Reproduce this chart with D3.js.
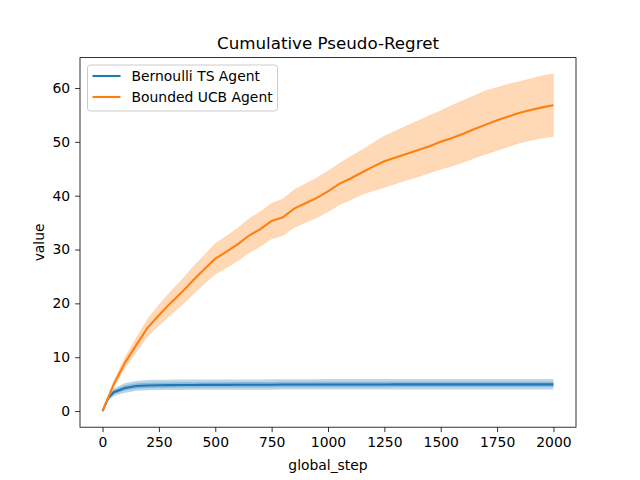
<!DOCTYPE html>
<html>
<head>
<meta charset="utf-8">
<script src="https://cdn.jsdelivr.net/npm/d3@7"></script>
<style>
  body { margin: 0; background: #fff; }
  svg text { font-family: "DejaVu Sans", sans-serif; fill: #000; }
</style>
</head>
<body>
<div id="contenedor"></div>
<script>
// datos
steps = [0, 25, 50, 100, 150, 200, 250, 300, 350, 400, 450, 500, 550, 600, 650, 700, 750, 800, 850, 900, 950, 1000,
         1050, 1100, 1150, 1200, 1250, 1300, 1350, 1400, 1450, 1500, 1550, 1600, 1650, 1700, 1750, 1800, 1850, 1900, 1950, 2000]

ucbMean = [0, 2.5, 5.0, 9.0, 12.3, 15.5, 17.8, 20.0, 22.0, 24.2, 26.3, 28.3, 29.6, 31.0, 32.6, 33.8, 35.3, 36.0, 37.6, 38.6, 39.6, 40.8,
           42.2, 43.2, 44.3, 45.4, 46.4, 47.1, 47.8, 48.5, 49.2, 50.0, 50.7, 51.5, 52.4, 53.2, 54.0, 54.7, 55.4, 55.9, 56.4, 56.8]
ucbUpper = [0, 2.8, 5.6, 10.0, 13.6, 17.1, 19.7, 22.1, 24.3, 26.7, 28.9, 31.1, 32.5, 34.0, 35.7, 37.0, 38.6, 39.4, 41.1, 42.2, 43.3, 44.6,
            46.0, 47.3, 48.5, 49.8, 51.1, 52.0, 53.0, 53.9, 54.9, 55.8, 56.8, 57.7, 58.6, 59.5, 60.1, 60.7, 61.2, 61.7, 62.3, 62.6]
ucbLower = [0, 2.2, 4.4, 8.0, 11.0, 13.9, 15.9, 17.8, 19.6, 21.6, 23.6, 25.4, 26.6, 27.9, 29.4, 30.6, 32.0, 32.6, 34.1, 35.0, 35.9, 37.0,
            38.3, 39.2, 40.2, 40.9, 41.5, 42.2, 42.9, 43.5, 44.2, 44.9, 45.5, 46.2, 47.0, 47.7, 48.4, 49.1, 49.8, 50.3, 50.7, 51.0]

tsMean = [0, 2.4, 3.5, 4.3, 4.65, 4.75, 4.8, 4.82, 4.84, 4.85, 4.86, 4.87, 4.87, 4.88, 4.88, 4.88, 4.89, 4.93, 4.93, 4.93, 4.93, 4.94,
          4.94, 4.94, 4.94, 4.94, 4.94, 4.95, 4.95, 4.95, 4.95, 4.95, 4.95, 4.95, 4.95, 4.95, 4.95, 4.95, 4.95, 4.95, 4.95, 4.95]
tsUpper = [0, 2.9, 4.2, 5.2, 5.6, 5.75, 5.8, 5.82, 5.84, 5.85, 5.86, 5.87, 5.87, 5.88, 5.88, 5.88, 5.89, 5.92, 5.92, 5.92, 5.92, 5.93,
           5.93, 5.93, 5.93, 5.93, 5.93, 5.94, 5.94, 5.94, 5.94, 5.94, 5.94, 5.94, 5.94, 5.94, 5.94, 5.94, 5.94, 5.94, 5.94, 5.94]
tsLower = [0, 1.9, 2.8, 3.4, 3.75, 3.85, 3.9, 3.92, 3.93, 3.94, 3.95, 3.95, 3.95, 3.96, 3.96, 3.96, 3.96, 3.98, 3.98, 3.98, 3.98, 3.98,
           3.98, 3.98, 3.98, 3.98, 3.98, 3.99, 3.99, 3.99, 3.99, 3.99, 3.99, 3.99, 3.99, 3.99, 3.99, 3.99, 3.99, 3.99, 3.99, 3.99]
tsInUpper = [0, 2.7, 3.9, 4.8, 5.15, 5.25, 5.3, 5.32, 5.34, 5.35, 5.36, 5.37, 5.37, 5.38, 5.38, 5.38, 5.39, 5.42, 5.42, 5.42, 5.42, 5.43,
             5.43, 5.43, 5.43, 5.43, 5.43, 5.44, 5.44, 5.44, 5.44, 5.44, 5.44, 5.44, 5.44, 5.44, 5.44, 5.44, 5.44, 5.44, 5.44, 5.44]
tsInLower = [0, 2.1, 3.1, 3.8, 4.15, 4.25, 4.3, 4.32, 4.34, 4.35, 4.36, 4.37, 4.37, 4.38, 4.38, 4.38, 4.39, 4.43, 4.43, 4.43, 4.43, 4.44,
             4.44, 4.44, 4.44, 4.44, 4.44, 4.45, 4.45, 4.45, 4.45, 4.45, 4.45, 4.45, 4.45, 4.45, 4.45, 4.45, 4.45, 4.45, 4.45, 4.45]

xTicks = [0, 250, 500, 750, 1000, 1250, 1500, 1750, 2000]
yTicks = [0, 10, 20, 30, 40, 50, 60]
series = ["Bernoulli TS Agent", "Bounded UCB Agent"]
colores = ["#1f77b4", "#ff7f0e"]

ancho = 640
alto = 480
izq = 80, der = 576, arriba = 57.6, abajo = 427.2

svg = d3.select("#contenedor")
    .append("svg")
    .attr("width", ancho)
    .attr("height", alto)

//ESCALAS
x = d3.scaleLinear().domain([-100, 2100]).range([izq, der])
y = d3.scaleLinear().domain([-3.0, 65.65]).range([abajo, arriba])

idx = d3.range(steps.length)

banda = function(lo, hi) {
    return d3.area()
        .x(function(i) { return x(steps[i]) })
        .y0(function(i) { return y(lo[i]) })
        .y1(function(i) { return y(hi[i]) })
}
linea = function(v) {
    return d3.line()
        .x(function(i) { return x(steps[i]) })
        .y(function(i) { return y(v[i]) })
}

plot = svg.append("g")

plot.append("path").datum(idx).attr("d", banda(tsLower, tsUpper))
    .attr("fill", colores[0]).attr("fill-opacity", 0.3)
plot.append("path").datum(idx).attr("d", banda(tsInLower, tsInUpper))
    .attr("fill", colores[0]).attr("fill-opacity", 0.3)
plot.append("path").datum(idx).attr("d", banda(ucbLower, ucbUpper))
    .attr("fill", colores[1]).attr("fill-opacity", 0.3)
    .attr("stroke", colores[1]).attr("stroke-opacity", 0.12).attr("stroke-width", 1)

plot.append("path").datum(idx).attr("d", linea(tsMean))
    .attr("fill", "none").attr("stroke", colores[0]).attr("stroke-width", 2.1)
plot.append("path").datum(idx).attr("d", linea(ucbMean))
    .attr("fill", "none").attr("stroke", colores[1]).attr("stroke-width", 2.1)

//EJES
ejeX = d3.axisBottom(x).tickValues(xTicks).tickSize(4.9).tickPadding(4.9).tickFormat(d3.format("d"))
ejeY = d3.axisLeft(y).tickValues(yTicks).tickSize(4.9).tickPadding(4.9)

gx = svg.append("g").attr("transform", "translate(0," + abajo + ")").call(ejeX)
gy = svg.append("g").attr("transform", "translate(" + izq + ",0)").call(ejeY)
;[gx, gy].forEach(function(g) {
    g.select(".domain").remove()
    g.selectAll("line").attr("stroke", "#000").attr("stroke-width", 0.8)
    g.selectAll("text").attr("font-size", "13.9px").attr("font-family", "DejaVu Sans")
})

svg.append("rect")
    .attr("x", izq).attr("y", arriba)
    .attr("width", der - izq).attr("height", abajo - arriba)
    .attr("fill", "none").attr("stroke", "#000").attr("stroke-width", 0.8)

svg.append("text").attr("x", (izq + der) / 2).attr("y", 49)
    .attr("text-anchor", "middle").attr("font-size", "16.7px").text("Cumulative Pseudo-Regret")
svg.append("text").attr("x", (izq + der) / 2).attr("y", 470)
    .attr("text-anchor", "middle").attr("font-size", "13.9px").text("global_step")
svg.append("text").attr("transform", "translate(44," + (arriba + abajo) / 2 + ") rotate(-90)")
    .attr("text-anchor", "middle").attr("font-size", "13.9px").text("value")

//LEYENDA
ley = svg.append("g").attr("transform", "translate(87.5,65)")
ley.append("rect").attr("width", 190).attr("height", 46).attr("rx", 2.8)
    .attr("fill", "#fff").attr("fill-opacity", 0.8).attr("stroke", "#ccc").attr("stroke-width", 1)
series.forEach(function(s, i) {
    yy = 11 + i * 21
    ley.append("line").attr("x1", 5).attr("x2", 33).attr("y1", yy).attr("y2", yy)
        .attr("stroke", colores[i]).attr("stroke-width", 2.1)
    ley.append("text").attr("x", 44).attr("y", yy + 5).attr("font-size", "13.9px").text(s)
})
</script>
</body>
</html>
